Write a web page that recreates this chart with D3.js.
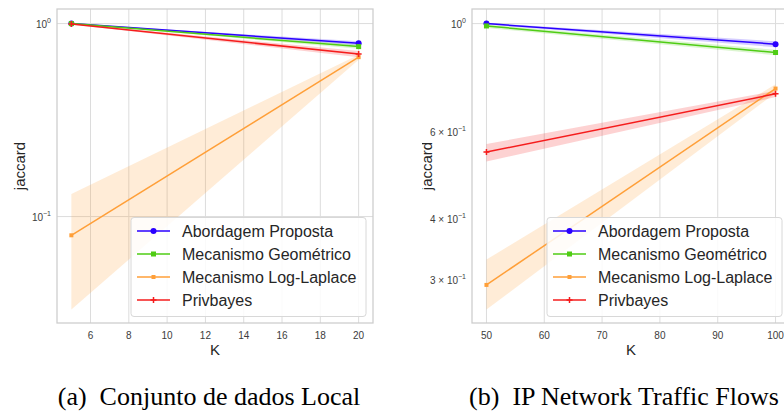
<!DOCTYPE html>
<html>
<head>
<meta charset="utf-8">
<script src="https://cdn.jsdelivr.net/npm/d3@7"></script>
<style>
body { margin: 0; background: #fff; }
svg { display: block; }
</style>
</head>
<body>
<svg id="chart" width="784" height="412"></svg>
<script>
/* global d3 */

var seriesNames = ['Abordagem Proposta', 'Mecanismo Geométrico', 'Mecanismo Log-Laplace', 'Privbayes'];

// (a) Conjunto de dados Local
var kLocal = [5, 20];
var abordagemLocal = [1.0, 0.79], abordagemLocalLo = [1.0, 0.77], abordagemLocalHi = [1.0, 0.81];
var geometricoLocal = [1.0, 0.76], geometricoLocalLo = [1.0, 0.74], geometricoLocalHi = [1.0, 0.78];
var logLaplaceLocal = [0.080, 0.67], logLaplaceLocalLo = [0.033, 0.65], logLaplaceLocalHi = [0.131, 0.69];
var privbayesLocal = [0.995, 0.695], privbayesLocalLo = [0.99, 0.67], privbayesLocalHi = [1.0, 0.72];
var xTicksLocal = [6, 8, 10, 12, 14, 16, 18, 20];
var yTicksLocal = [1, 0.1];
var yLabelsLocal = [['10', '0'], ['10', '\u22121']];

// (b) IP Network Traffic Flows
var kFlows = [50, 100];
var abordagemFlows = [1.0, 0.908], abordagemFlowsLo = [0.996, 0.895], abordagemFlowsHi = [1.004, 0.92];
var geometricoFlows = [0.989, 0.873], geometricoFlowsLo = [0.98, 0.862], geometricoFlowsHi = [0.996, 0.884];
var logLaplaceFlows = [0.293, 0.737], logLaplaceFlowsLo = [0.261, 0.722], logLaplaceFlowsHi = [0.330, 0.752];
var privbayesFlows = [0.547, 0.719], privbayesFlowsLo = [0.523, 0.708], privbayesFlowsHi = [0.568, 0.729];
var xTicksFlows = [50, 60, 70, 80, 90, 100];
var yTicksFlows = [1, 0.6, 0.4, 0.3];
var yLabelsFlows = [['10', '0'], ['6 \u00d7 10', '\u22121'], ['4 \u00d7 10', '\u22121'], ['3 \u00d7 10', '\u22121']];

var captions = ['(a)\u2002Conjunto de dados Local', '(b)\u2002IP Network Traffic Flows'];

var colors = ['#2a00ff', '#4fcc14', '#ff9f38', '#f51c1c'],
	markers = ['circle', 'square', 'smallsquare', 'plus'];

var svg = d3.select('#chart');

function zipSeries(k, mean, lo, hi) {
	return k.map(function(d, i) { return {k: d, v: mean[i], lo: lo[i], hi: hi[i]}; });
}

function drawMarker(g, type, color, cx, cy) {
	if (type === 'circle') {
		g.append('circle').attr('cx', cx).attr('cy', cy).attr('r', 3).attr('fill', color);
	} else if (type === 'square' || type === 'smallsquare') {
		var s = type === 'square' ? 5 : 4;
		g.append('rect').attr('x', cx - s/2).attr('y', cy - s/2).attr('width', s).attr('height', s).attr('fill', color);
	} else {
		g.append('path').attr('d', 'M' + (cx - 3) + ',' + cy + 'h6M' + cx + ',' + (cy - 3) + 'v6')
			.attr('stroke', color).attr('stroke-width', 1.5);
	}
}

function supLabel(sel, parts, anchor) {
	var t = sel.append('text')
		.attr('text-anchor', anchor)
		.attr('font-family', 'Liberation Sans, Arial, sans-serif')
		.attr('font-size', 10)
		.attr('fill', '#3c3c3c');
	t.append('tspan').text(parts[0]);
	t.append('tspan').attr('dy', -5).attr('font-size', 7).text(parts[1]);
	return t;
}

function drawPanel(opts) {
	var left = opts.left, right = opts.right, top = 9, bottom = 323,
		g = svg.append('g'), x, y, area, line;

	if (opts.clipLeft) {
		svg.append('clipPath').attr('id', opts.id + '-clip')
			.append('rect').attr('x', opts.clipLeft).attr('y', 0).attr('width', 784 - opts.clipLeft).attr('height', 360);
		g.attr('clip-path', 'url(#' + opts.id + '-clip)');
	}

	x = d3.scaleLinear().domain(opts.xDomain).range([left, right]);
	y = d3.scaleLog().domain(opts.yDomain).range([bottom, top]);

	// grid
	g.append('g').selectAll('line').data(opts.xTicks).join('line')
		.attr('x1', function(d) { return x(d); }).attr('x2', function(d) { return x(d); })
		.attr('y1', top).attr('y2', bottom)
		.attr('stroke', '#dcdcdc').attr('stroke-width', 1);
	g.append('g').selectAll('line').data(opts.yGrid).join('line')
		.attr('x1', left).attr('x2', right)
		.attr('y1', function(d) { return y(d); }).attr('y2', function(d) { return y(d); })
		.attr('stroke', '#dcdcdc').attr('stroke-width', 1);

	// bands, lines and markers
	area = d3.area()
		.x(function(d) { return x(d.k); })
		.y0(function(d) { return y(d.lo); })
		.y1(function(d) { return y(d.hi); });
	line = d3.line()
		.x(function(d) { return x(d.k); })
		.y(function(d) { return y(d.v); });

	opts.series.forEach(function(s, i) {
		g.append('path').datum(s).attr('d', area)
			.attr('fill', colors[i]).attr('fill-opacity', 0.2);
	});
	opts.series.forEach(function(s, i) {
		g.append('path').datum(s).attr('d', line)
			.attr('fill', 'none').attr('stroke', colors[i]).attr('stroke-width', 1.5);
		s.forEach(function(d) {
			drawMarker(g, markers[i], colors[i], x(d.k), y(d.v));
		});
	});

	// frame
	g.append('rect').attr('x', left).attr('y', top)
		.attr('width', right - left).attr('height', bottom - top)
		.attr('fill', 'none').attr('stroke', '#cccccc').attr('stroke-width', 1.25);

	// tick labels
	g.append('g').selectAll('text').data(opts.xTicks).join('text')
		.attr('x', function(d) { return x(d); }).attr('y', 339)
		.attr('text-anchor', 'middle')
		.attr('font-family', 'Liberation Sans, Arial, sans-serif')
		.attr('font-size', 10).attr('fill', '#3c3c3c')
		.text(function(d) { return d; });
	opts.yTicks.forEach(function(d, i) {
		supLabel(g, opts.yLabels[i], 'end')
			.attr('x', left - 6).attr('y', y(d) + 4);
	});

	// axis labels
	g.append('text').attr('x', (left + right) / 2).attr('y', 355)
		.attr('text-anchor', 'middle')
		.attr('font-family', 'Liberation Sans, Arial, sans-serif')
		.attr('font-size', 15).attr('fill', '#262626')
		.text('K');
	g.append('text')
		.attr('transform', 'translate(' + opts.yLabelX + ',166) rotate(-90)')
		.attr('text-anchor', 'middle')
		.attr('font-family', 'Liberation Sans, Arial, sans-serif')
		.attr('font-size', 15).attr('fill', '#262626')
		.text('jaccard');

	// legend
	var lg = g.append('g').attr('transform', 'translate(' + opts.legend[0] + ',' + opts.legend[1] + ')');
	lg.append('rect').attr('x', 0).attr('y', 0).attr('width', 235).attr('height', 99)
		.attr('rx', 3).attr('fill', '#ffffff').attr('fill-opacity', 0.85)
		.attr('stroke', '#d8d8d8').attr('stroke-width', 1);
	seriesNames.forEach(function(name, i) {
		var cy = 13.5 + i * 23;
		lg.append('line').attr('x1', 6).attr('x2', 39).attr('y1', cy).attr('y2', cy)
			.attr('stroke', colors[i]).attr('stroke-width', 1.5);
		drawMarker(lg, markers[i], colors[i], 22.5, cy);
		lg.append('text').attr('x', 51).attr('y', cy + 5.5)
			.attr('font-family', 'Liberation Sans, Arial, sans-serif')
			.attr('font-size', 16).attr('fill', '#262626')
			.text(name);
	});

	// caption
	svg.append('text').attr('x', opts.captionX).attr('y', 405)
		.attr('text-anchor', 'middle')
		.attr('font-family', 'Liberation Serif, Times New Roman, serif')
		.attr('font-size', 26).attr('fill', '#000')
		.text(opts.caption);
}

drawPanel({
	id: 'local',
	left: 57, right: 373,
	xDomain: [4.25, 20.75],
	yDomain: [0.0281, 1.19],
	xTicks: xTicksLocal,
	yTicks: yTicksLocal,
	yGrid: yTicksLocal,
	yLabels: yLabelsLocal,
	yLabelX: 25,
	legend: [131, 217.5],
	caption: captions[0],
	captionX: 209,
	series: [
		zipSeries(kLocal, abordagemLocal, abordagemLocalLo, abordagemLocalHi),
		zipSeries(kLocal, geometricoLocal, geometricoLocalLo, geometricoLocalHi),
		zipSeries(kLocal, logLaplaceLocal, logLaplaceLocalLo, logLaplaceLocalHi),
		zipSeries(kLocal, privbayesLocal, privbayesLocalLo, privbayesLocalHi)
	]
});

drawPanel({
	id: 'flows',
	left: 472, right: 790,
	clipLeft: 422,
	xDomain: [47.5, 102.5],
	yDomain: [0.245, 1.071],
	xTicks: xTicksFlows,
	yTicks: yTicksFlows,
	yGrid: [1],
	yLabels: yLabelsFlows,
	yLabelX: 432,
	legend: [547, 217.5],
	caption: captions[1],
	captionX: 624,
	series: [
		zipSeries(kFlows, abordagemFlows, abordagemFlowsLo, abordagemFlowsHi),
		zipSeries(kFlows, geometricoFlows, geometricoFlowsLo, geometricoFlowsHi),
		zipSeries(kFlows, logLaplaceFlows, logLaplaceFlowsLo, logLaplaceFlowsHi),
		zipSeries(kFlows, privbayesFlows, privbayesFlowsLo, privbayesFlowsHi)
	]
});
</script>
</body>
</html>
